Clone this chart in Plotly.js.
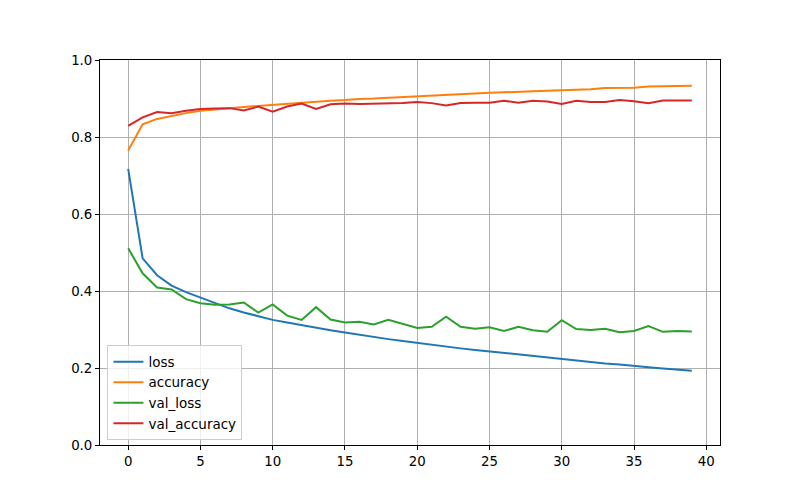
<!DOCTYPE html>
<html>
<head>
<meta charset="utf-8">
<script src="https://cdn.plot.ly/plotly-3.0.1.min.js"></script>
<style>html,body{margin:0;padding:0;background:#fff;}#chart{width:800px;height:500px;}</style>
</head>
<body>
<div id="chart"></div>
<script>
const epochs = [0,1,2,3,4,5,6,7,8,9,10,11,12,13,14,15,16,17,18,19,20,21,22,23,24,25,26,27,28,29,30,31,32,33,34,35,36,37,38,39];
const loss = [0.717,0.485,0.441,0.414,0.397,0.383,0.368,0.355,0.344,0.334,0.325,0.318,0.311,0.304,0.298,0.292,0.286,0.281,0.275,0.270,0.265,0.261,0.256,0.251,0.247,0.243,0.239,0.235,0.231,0.228,0.224,0.220,0.216,0.212,0.209,0.205,0.202,0.199,0.196,0.193];
const accuracy = [0.765,0.833,0.847,0.855,0.862,0.868,0.872,0.875,0.878,0.881,0.884,0.887,0.889,0.892,0.894,0.896,0.899,0.900,0.902,0.904,0.906,0.908,0.910,0.912,0.913,0.915,0.916,0.918,0.919,0.920,0.921,0.923,0.924,0.927,0.927,0.928,0.931,0.932,0.933,0.933];
const val_loss = [0.511,0.446,0.409,0.404,0.379,0.368,0.364,0.365,0.370,0.344,0.365,0.336,0.325,0.358,0.326,0.318,0.320,0.313,0.325,0.315,0.304,0.307,0.333,0.307,0.302,0.306,0.296,0.307,0.298,0.294,0.324,0.301,0.299,0.302,0.293,0.296,0.309,0.294,0.296,0.295];
const val_accuracy = [0.829,0.851,0.865,0.862,0.868,0.873,0.874,0.875,0.869,0.879,0.866,0.879,0.887,0.873,0.885,0.887,0.886,0.887,0.887,0.888,0.891,0.888,0.882,0.888,0.889,0.889,0.894,0.889,0.894,0.892,0.886,0.894,0.891,0.891,0.896,0.893,0.888,0.895,0.895,0.895];
const seriesNames = ["loss","accuracy","val_loss","val_accuracy"];
const colors = ["#1f77b4","#ff7f0e","#2ca02c","#d62728"];
const xTicks = [0,5,10,15,20,25,30,35,40];
const yTicks = [0,0.2,0.4,0.6,0.8,1.0];

const seriesData = [loss, accuracy, val_loss, val_accuracy];
const traces = seriesData.map((ys, i) => ({
  x: epochs, y: ys, type: "scatter", mode: "lines", name: seriesNames[i],
  line: {color: colors[i], width: 2}
}));

const axisCommon = {
  showline: true, linecolor: "#000", linewidth: 1, mirror: true,
  ticks: "outside", ticklen: 4, tickwidth: 1, tickcolor: "#000",
  showgrid: true, gridcolor: "#b0b0b0", gridwidth: 1,
  zeroline: false, tickfont: {family: "DejaVu Sans", size: 13.33, color: "#000"}
};

const layout = {
  width: 800, height: 500,
  margin: {l: 100, r: 80, t: 60, b: 55},
  paper_bgcolor: "#fff", plot_bgcolor: "#fff",
  font: {family: "DejaVu Sans", size: 13.33, color: "#000"},
  xaxis: Object.assign({}, axisCommon, {range: [-1.95, 40.95], tickvals: xTicks, ticktext: xTicks.map(String)}),
  yaxis: Object.assign({}, axisCommon, {range: [0, 1], tickvals: yTicks, ticktext: yTicks.map(v => v.toFixed(1))}),
  showlegend: true,
  legend: {x: 0.012, y: 0.012, xanchor: "left", yanchor: "bottom",
    bgcolor: "rgba(255,255,255,0.8)", bordercolor: "#cccccc", borderwidth: 1,
    font: {family: "DejaVu Sans", size: 13.5, color: "#000"}, tracegroupgap: 0}
};

Plotly.newPlot("chart", traces, layout, {displayModeBar: false, staticPlot: true});
</script>
</body>
</html>
